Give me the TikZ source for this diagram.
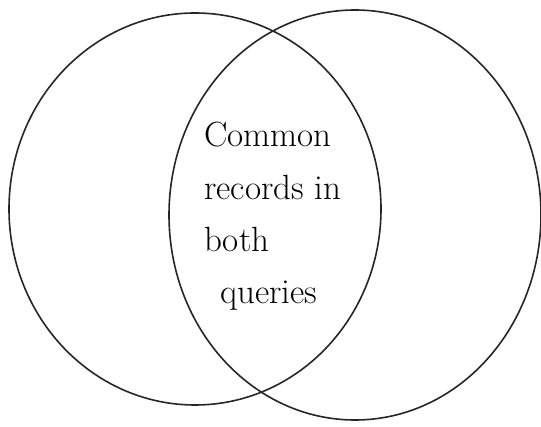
\documentclass[tikz,border=0pt]{standalone}
\begin{document}
\begin{tikzpicture}[x=1pt,y=-1pt,
  setline/.style={draw=black!85,line width=1.6pt},
  lbl/.style={anchor=base west,inner sep=0pt,font=\fontsize{35}{40}\selectfont}]
\useasboundingbox (0,0) rectangle (541,427);
\draw[setline] (195,209) ellipse [x radius=186, y radius=196];
\draw[setline] (355,215) ellipse [x radius=186, y radius=205];
\node[lbl] (l1) at (204,147) {Common};
\node[lbl] (l2) at (204,200) {records in};
\node[lbl] (l3) at (204,252) {both};
\node[lbl] (l4) at (220,304) {queries};
\end{tikzpicture}
\end{document}
